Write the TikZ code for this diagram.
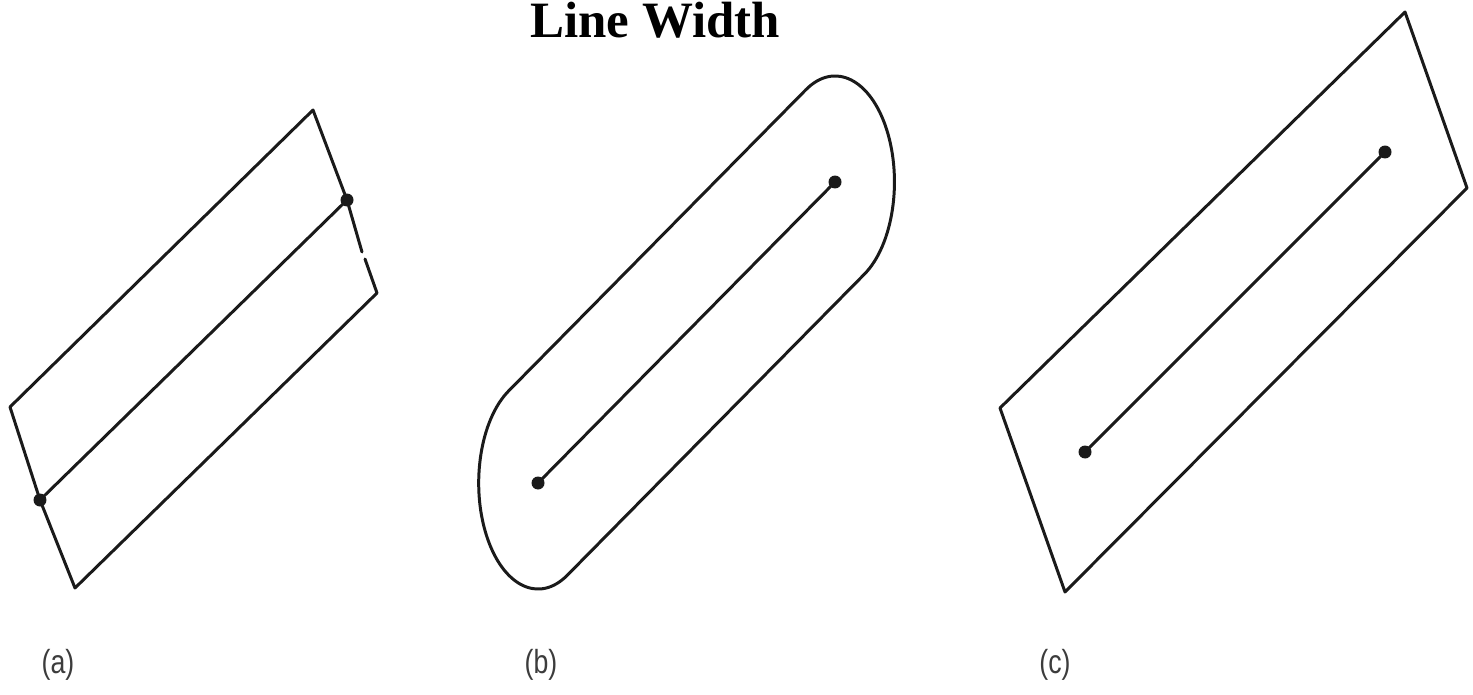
\documentclass[tikz,border=0pt]{standalone}
\usepackage{fontspec}
\setmainfont{Liberation Serif}
\newfontfamily\labfont[FakeStretch=0.8]{Liberation Sans}
\usetikzlibrary{calc}
\definecolor{ink}{HTML}{1A1A1A}
\tikzset{
  outline/.style={draw=ink, line width=1.7pt, line join=round, line cap=round},
  dotnode/.style={circle, fill=ink, inner sep=0pt, minimum size=0.26cm},
  lab/.style={font=\labfont\fontsize{19}{22}\selectfont, text=ink!85},
  titlelab/.style={font=\fontsize{29}{34}\selectfont\bfseries, anchor=base},
}

\begin{document}
\begin{tikzpicture}[x=0.02cm, y=0.02cm]
  \useasboundingbox (0,0) rectangle (1473,694);
  \node[titlelab] (title) at (655,656) {Line Width};

  % (a) butt caps
  \coordinate (atl) at (10,287);
  \coordinate (atr) at (313,584);
  \coordinate (abr) at (377,401);
  \coordinate (abl) at (75,106);
  \coordinate (agt) at (362,442);
  \coordinate (agb) at (365,435);
  \node[dotnode] (a1) at (40,194) {};
  \node[dotnode] (a2) at (347,494) {};
  \draw[outline] (agt) -- (a2.center) -- (atr) -- (atl) -- (a1.center) -- (abl) -- (abr) -- (agb);
  \draw[outline] (a1.center) -- (a2.center);

  % (b) round caps
  \node[dotnode] (b1) at (538,211) {};
  \node[dotnode] (b2) at (835,512) {};
  \draw[outline] (b1.center) -- (b2.center);
  \begin{scope}[xscale=0.56]
    \draw[outline] ($(b1.center)+(119.6:106)$) -- ($(b2.center)+(119.6:106)$)
      arc[start angle=119.6, end angle=-60.4, radius=106]
      -- ($(b1.center)+(-60.4:106)$)
      arc[start angle=-60.4, end angle=-240.4, radius=106] -- cycle;
  \end{scope}

  % (c) projecting square caps
  \coordinate (ctr) at (1405,682);
  \coordinate (cr) at (1467,506);
  \coordinate (cb) at (1065,102);
  \coordinate (cl) at (1000,286);
  \node[dotnode] (c1) at (1085,242) {};
  \node[dotnode] (c2) at (1385,542) {};
  \draw[outline] (ctr) -- (cr) -- (cb) -- (cl) -- cycle;
  \draw[outline] (c1.center) -- (c2.center);

  \node[lab] (la) at (58,29) {(a)};
  \node[lab] (lb) at (541,29) {(b)};
  \node[lab] (lc) at (1055,29) {(c)};
\end{tikzpicture}
\end{document}
